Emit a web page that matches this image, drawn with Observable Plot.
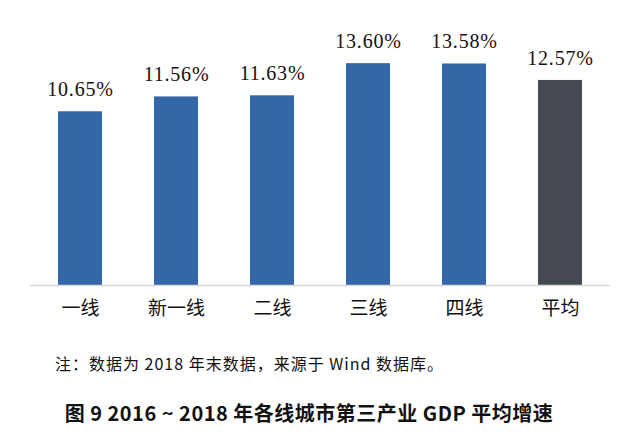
<!DOCTYPE html>
<html>
<head>
<meta charset="utf-8">
<script src="https://cdn.jsdelivr.net/npm/d3@7"></script>
<script src="https://cdn.jsdelivr.net/npm/@observablehq/plot@0.6"></script>
<style>
  body { margin: 0; background: #fff; width: 640px; height: 443px; overflow: hidden; }
  #note { font-family: "Noto Sans CJK SC", sans-serif; font-size: 16px; line-height: 24px; margin-top: 16px; padding-left: 55px; color: #111; letter-spacing: 1px; }
  #title { font-family: "Noto Sans CJK SC", sans-serif; font-weight: bold; font-size: 20px; line-height: 26px; margin-top: 25px; text-align: center; padding-right: 22px; color: #111; letter-spacing: 0.5px; }
</style>
</head>
<body>
<div id="chart"></div>
<div id="note">注：数据为 2018 年末数据，来源于 Wind 数据库。</div>
<div id="title">图 9 2016 ~ 2018 年各线城市第三产业 GDP 平均增速</div>
<script>
const categories = ["一线", "新一线", "二线", "三线", "四线", "平均"];
const values = [10.65, 11.56, 11.63, 13.60, 13.58, 12.57];
const colors = ["#3366a6", "#3366a6", "#3366a6", "#3366a6", "#3366a6", "#454a52"];

const data = categories.map((c, i) => ({ cat: c, value: values[i], color: colors[i] }));

const chart = Plot.plot({
  width: 640,
  height: 335,
  marginLeft: 30,
  marginRight: 30,
  marginTop: 24,
  marginBottom: 50,
  x: { domain: categories, paddingInner: 0.54, paddingOuter: 0.27, label: null },
  y: { domain: [0, 16], axis: null },
  style: { fontFamily: "Noto Sans CJK SC, sans-serif", fontSize: "19px", color: "#111", background: "#fff" },
  marks: [
    Plot.barY(data, { x: "cat", y: "value", fill: "color" }),
    Plot.ruleY([0], { stroke: "#d9d9d9", strokeWidth: 1.5 }),
    Plot.text(data, {
      x: "cat", y: "value",
      text: d => d.value.toFixed(2) + "%",
      dy: -22,
      fontSize: 20,
      fontFamily: "Liberation Serif, serif",
      fill: "#111"
    }),
    Plot.axisX({ tickSize: 0, tickPadding: 16, fontSize: 19, label: null })
  ]
});
d3.select(chart).selectAll("g[aria-label=text] text").style("letter-spacing", "0.8px");
document.getElementById("chart").appendChild(chart);
</script>
</body>
</html>
